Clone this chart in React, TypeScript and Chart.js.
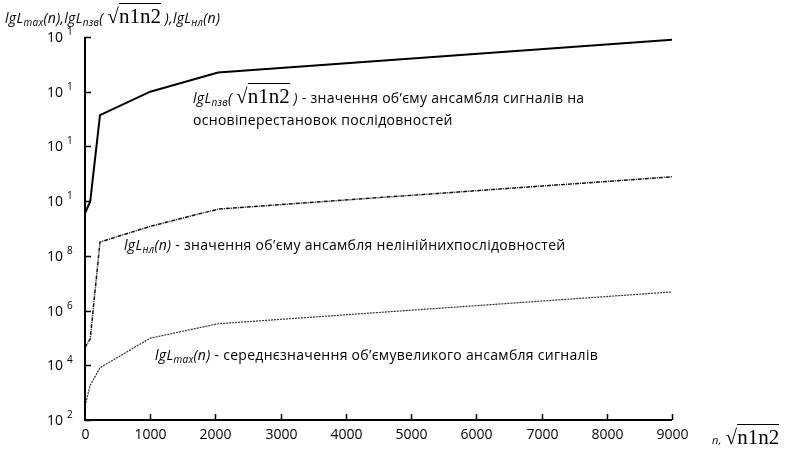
import React, { useEffect, useRef } from "react";
import { Chart, registerables } from "chart.js";

Chart.register(...registerables);

// n values (x) where the curves are sampled
const nValues = [0, 80, 230, 1000, 2040, 9000];
// lgLпзв(√n1n2) – solid top curve
const lPzv = [3.6e9, 9.8e9, 1.4e13, 1.0e14, 5.0e14, 7.9e15];
// lgLнл(n) – middle dash-dot curve
const lNl = [4.4e4, 9.3e4, 3.2e8, 1.2e9, 5.1e9, 7.8e10];
// lgLmax(n) – bottom dotted curve
const lMax = [330, 1860, 8100, 9.8e4, 3.3e5, 4.8e6];

const xTicks = [0, 1000, 2000, 3000, 4000, 5000, 6000, 7000, 8000, 9000];
const yTicks = [1e2, 1e4, 1e6, 1e8, 1e10, 1e12, 1e14, 1e16];
const yExp = ["2", "4", "6", "8", "1", "1", "1", "1"];

const FONT = "'Open Sans', 'DejaVu Sans', sans-serif";

const axesPlugin = {
  id: "axesPlugin",
  afterDraw(chart: any) {
    const ctx = chart.ctx;
    const xs = chart.scales.x;
    const ys = chart.scales.y;
    const left = xs.left;
    const bottom = ys.bottom;
    ctx.save();
    ctx.strokeStyle = "#000";
    ctx.fillStyle = "#000";
    ctx.lineWidth = 2;
    ctx.beginPath();
    ctx.moveTo(left, ys.top);
    ctx.lineTo(left, bottom);
    ctx.lineTo(xs.right, bottom);
    ctx.stroke();
    ctx.lineWidth = 1.5;
    yTicks.forEach((v, i) => {
      const py = Math.round(ys.getPixelForValue(v)) + 0.5;
      ctx.beginPath();
      ctx.moveTo(left, py);
      ctx.lineTo(left + 6, py);
      ctx.stroke();
      ctx.font = `14px ${FONT}`;
      ctx.textAlign = "right";
      ctx.textBaseline = "middle";
      ctx.fillText("10", left - 22, py + 1);
      ctx.font = `10px ${FONT}`;
      ctx.textAlign = "left";
      ctx.fillText(yExp[i], left - 18, py - 5);
    });
    xTicks.forEach((v) => {
      const px = Math.round(xs.getPixelForValue(v)) + 0.5;
      if (v !== 0) {
        ctx.beginPath();
        ctx.moveTo(px, bottom);
        ctx.lineTo(px, bottom - 6);
        ctx.stroke();
      }
      ctx.font = `14px ${FONT}`;
      ctx.textAlign = "center";
      ctx.textBaseline = "middle";
      ctx.fillText(String(v), px, bottom + 15);
    });
    ctx.restore();
  },
};

function Sqrt({ size = 21 }: { size?: number }) {
  return (
    <span style={{ fontFamily: "'Liberation Serif', 'DejaVu Serif', serif", fontStyle: "normal", fontSize: size, letterSpacing: 0 }}>
      √<span style={{ borderTop: "1px solid #000", paddingTop: 0 }}>n1n2</span>
    </span>
  );
}

function LgL({ sub, children }: { sub: string; children: any }) {
  return (
    <span style={{ fontStyle: "italic" }}>
      lgL
      <span style={{ fontSize: 10, verticalAlign: -3 }}>{sub}</span>(
      {children})
    </span>
  );
}

export default function App() {
  const ref = useRef<HTMLCanvasElement>(null);
  useEffect(() => {
    document.body.style.margin = "0";
    const chart = new Chart(ref.current!, {
      type: "line",
      data: {
        labels: nValues,
        datasets: [
          {
            data: nValues.map((x, i) => ({ x, y: lPzv[i] })),
            borderColor: "#000",
            borderWidth: 2,
            pointRadius: 0,
            tension: 0,
          },
          {
            data: nValues.map((x, i) => ({ x, y: lNl[i] })),
            borderColor: "#111",
            borderWidth: 1.5,
            borderDash: [4, 1, 1, 1],
            pointRadius: 0,
            tension: 0,
          },
          {
            data: nValues.map((x, i) => ({ x, y: lMax[i] })),
            borderColor: "#333",
            borderWidth: 1.2,
            borderDash: [2, 1],
            pointRadius: 0,
            tension: 0,
          },
        ],
      },
      options: {
        animation: false,
        responsive: false,
        devicePixelRatio: 1,
        layout: { padding: { left: 85, right: 117, top: 37, bottom: 32 } },
        plugins: { legend: { display: false }, tooltip: { enabled: false } },
        scales: {
          x: {
            type: "linear",
            min: 0,
            max: 9000,
            grid: { display: false },
            border: { display: false },
            ticks: { display: false },
            afterFit: (s: any) => {
              s.height = 0;
            },
          },
          y: {
            type: "logarithmic",
            min: 1e2,
            max: 1e16,
            grid: { display: false },
            border: { display: false },
            ticks: { display: false },
            afterFit: (s: any) => {
              s.width = 0;
            },
          },
        },
      },
      plugins: [axesPlugin],
    });
    return () => chart.destroy();
  }, []);

  const txt: React.CSSProperties = {
    position: "absolute",
    fontFamily: FONT,
    fontSize: 14,
    color: "#000",
    whiteSpace: "nowrap",
    lineHeight: "22px",
    letterSpacing: "0.3px",
  };

  return (
    <div style={{ position: "fixed", left: 0, top: 0, width: 789, height: 452, background: "#fff", overflow: "hidden" }}>
      <canvas ref={ref} width={789} height={452} style={{ position: "absolute", left: 0, top: 0, width: 789, height: 452 }} />
      <div style={{ ...txt, left: 5, top: 5 }}>
        <LgL sub="max">n</LgL>
        <span style={{ fontStyle: "italic" }}>,</span>
        <LgL sub="пзв">
          {" "}
          <Sqrt /> {" "}
        </LgL>
        <span style={{ fontStyle: "italic" }}>,</span>
        <LgL sub="нл">n</LgL>
      </div>
      <div style={{ ...txt, left: 193, top: 85 }}>
        <LgL sub="пзв">
          {" "}
          <Sqrt /> {" "}
        </LgL>{" "}
        - значення об’єму ансамбля сигналів на
      </div>
      <div style={{ ...txt, left: 193, top: 109 }}>основіперестановок послідовностей</div>
      <div style={{ ...txt, left: 124, top: 234 }}>
        <LgL sub="нл">n</LgL> - значення об’єму ансамбля нелінійнихпослідовностей
      </div>
      <div style={{ ...txt, left: 155, top: 344 }}>
        <LgL sub="max">n</LgL> - середнєзначення об’ємувеликого ансамбля сигналів
      </div>
      <div style={{ ...txt, left: 712, top: 426 }}>
        <span style={{ fontStyle: "italic", fontSize: 11 }}>n,</span> <Sqrt size={21} />
      </div>
    </div>
  );
}
